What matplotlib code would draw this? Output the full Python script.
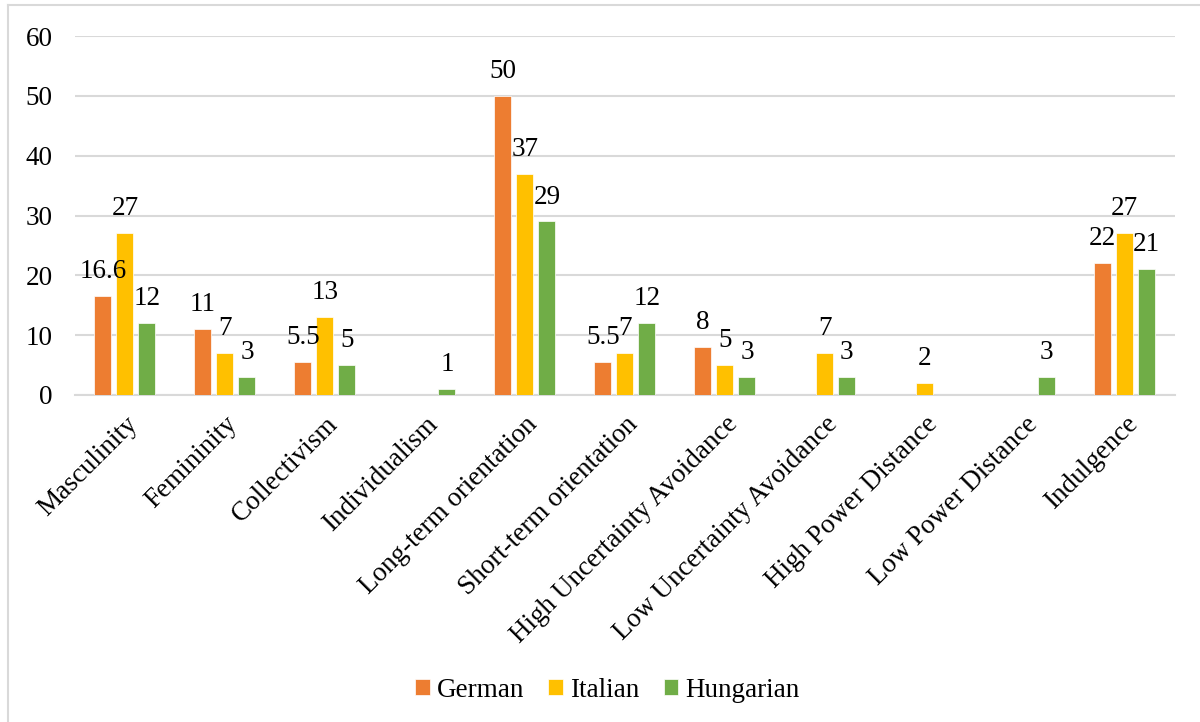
# Grouped bar chart - cultural dimensions by nationality
import numpy as np
import matplotlib
matplotlib.use('Agg')
import matplotlib.pyplot as plt
from matplotlib.lines import Line2D

plt.rcParams['font.family'] = ['Liberation Serif', 'DejaVu Serif']

# Data
categories = ['Masculinity', 'Femininity', 'Collectivism', 'Individualism',
              'Long-term orientation', 'Short-term orientation',
              'High Uncertainty Avoidance', 'Low Uncertainty Avoidance',
              'High Power Distance', 'Low Power Distance', 'Indulgence']
german = [16.6, 11, 5.5, 0, 50, 5.5, 8, 0, 0, 0, 22]
italian = [27, 7, 13, 0, 37, 7, 5, 7, 2, 0, 27]
hungarian = [12, 3, 5, 1, 29, 12, 3, 3, 0, 3, 21]
series_names = ['German', 'Italian', 'Hungarian']
colors = ['#ED7D31', '#FFC000', '#70AD47']

fs = 19.5
fig = plt.figure(figsize=(12, 7.22), dpi=100)
ax = fig.add_axes([0.0625, 0.453, 0.9165, 0.497])

x = np.arange(len(categories))
step = 0.22
width = 0.17
for i, (vals, name, col) in enumerate(zip([german, italian, hungarian], series_names, colors)):
    pos = x + (i - 1) * step
    ax.bar(pos, vals, width, color=col, label=name, edgecolor='white', linewidth=0.5, zorder=3)
    for p, v in zip(pos, vals):
        if v > 0:  # zero values carry no label
            ax.text(p, v + 2.0, f'{v:g}', ha='center', va='bottom', fontsize=fs, zorder=4)

ax.set_xlim(-0.5, len(categories) - 0.5)
ax.set_ylim(0, 60)
ax.set_yticks(range(0, 61, 10))
ax.yaxis.grid(True, color='#d9d9d9', linewidth=1.5, zorder=0)
for s in ['top', 'right', 'left']:
    ax.spines[s].set_visible(False)
ax.spines['bottom'].set_color('#d9d9d9')
ax.spines['bottom'].set_linewidth(1.5)
ax.tick_params(axis='both', length=0, labelsize=fs)
ax.tick_params(axis='y', pad=16)
ax.set_xticks(x)
ax.set_xticklabels(categories, rotation=45, ha='right', rotation_mode='anchor')
ax.tick_params(axis='x', pad=12)

fig.legend(loc='center', bbox_to_anchor=(0.506, 0.044), ncol=3, frameon=False,
           fontsize=fs, handlelength=0.55, handleheight=0.55, columnspacing=0.9, handletextpad=0.25)

# light border (left and top edges visible in the reference)
fig.lines.append(Line2D([8 / 1200, 8 / 1200], [0, 1 - 5 / 722], transform=fig.transFigure,
                        color='#d9d9d9', linewidth=1.5))
fig.lines.append(Line2D([8 / 1200, 1], [1 - 5 / 722, 1 - 5 / 722], transform=fig.transFigure,
                        color='#d9d9d9', linewidth=1.5))

plt.savefig('out.png', dpi=100)
